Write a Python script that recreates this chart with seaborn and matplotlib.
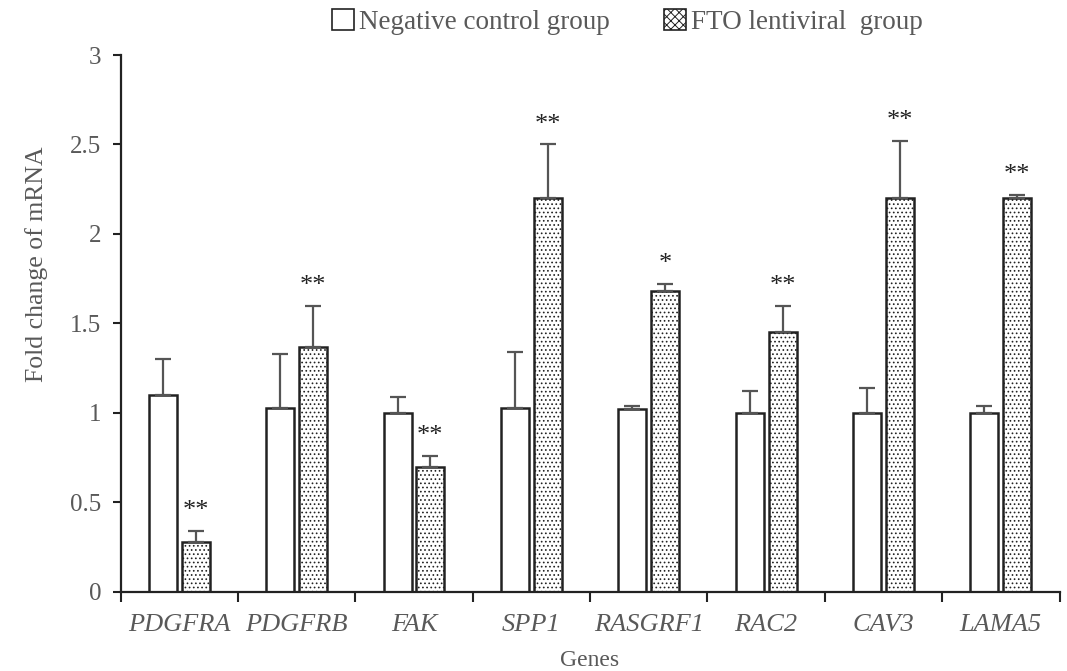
import matplotlib
matplotlib.use("Agg")
import matplotlib.pyplot as plt
from matplotlib.patches import Patch
import seaborn as sns
import pandas as pd

# datos
genes = ["PDGFRA", "PDGFRB", "FAK", "SPP1", "RASGRF1", "RAC2", "CAV3", "LAMA5"]
groups = ["Negative control group", "FTO lentiviral  group"]
control_mean = [1.10, 1.03, 1.00, 1.03, 1.02, 1.00, 1.00, 1.00]
control_err = [0.20, 0.30, 0.09, 0.31, 0.02, 0.12, 0.14, 0.04]
fto_mean = [0.28, 1.37, 0.70, 2.20, 1.68, 1.45, 2.20, 2.20]
fto_err = [0.06, 0.23, 0.06, 0.30, 0.04, 0.15, 0.32, 0.02]
stars = ["**", "**", "**", "**", "*", "**", "**", "**"]

df = pd.DataFrame({
    "gene": genes * 2,
    "group": [groups[0]] * len(genes) + [groups[1]] * len(genes),
    "value": control_mean + fto_mean,
})

sns.set_style("white")
plt.rcParams["font.family"] = ["Liberation Serif", "DejaVu Serif"]
plt.rcParams["hatch.linewidth"] = 0.7
plt.rcParams["hatch.color"] = "#333333"
text_color = "#595959"

fig = plt.figure(figsize=(10.67, 6.71), dpi=100)
ax = fig.add_axes([0.113, 0.118, 0.88, 0.8])

sns.barplot(
    data=df, x="gene", y="value", hue="group", order=genes, hue_order=groups,
    palette=["white", "white"], width=0.56, gap=0.15, edgecolor="#222222",
    linewidth=1.8, errorbar=None, legend=False, ax=ax,
)

# trama punteada para el grupo FTO y barras de error solo hacia arriba
for cont, errs in zip(ax.containers, [control_err, fto_err]):
    xs = [b.get_x() + b.get_width() / 2 for b in cont]
    hs = [b.get_height() for b in cont]
    ax.errorbar(xs, hs, yerr=[[0] * len(errs), errs], fmt="none",
                ecolor="#555555", elinewidth=1.6, capsize=6, capthick=1.6, zorder=1)
for b in ax.containers[1]:
    b.set_hatch("....")

# asteriscos
for b, e, s in zip(ax.containers[1], fto_err, stars):
    x = b.get_x() + b.get_width() / 2
    ax.text(x, b.get_height() + e + 0.05, s, ha="center", va="bottom",
            fontsize=19, color="#222222")

ax.set_ylim(0, 3)
ax.set_xlim(-0.5, len(genes) - 0.5)
ax.set_yticks([0, 0.5, 1, 1.5, 2, 2.5, 3])
ax.set_yticklabels(["0", "0.5", "1", "1.5", "2", "2.5", "3"])
ax.set_xticks(range(len(genes)))
ax.set_xticklabels(genes, style="italic")
ax.set_xticks([i - 0.5 for i in range(len(genes) + 1)], minor=True)
ax.tick_params(axis="x", which="major", length=0, pad=16, labelsize=19, labelcolor=text_color)
ax.tick_params(axis="x", which="minor", bottom=True, length=7, width=1.5,
               direction="out", color="#222222")
ax.tick_params(axis="y", left=True, length=6, width=1.5, direction="out", color="#222222",
               labelsize=18, labelcolor=text_color, pad=8)

ax.set_ylabel("Fold change of mRNA", fontsize=18.5, color=text_color, labelpad=16, y=0.61)
ax.set_xlabel("Genes", fontsize=17, color=text_color, labelpad=10)

sns.despine(ax=ax)
for sp in ["left", "bottom"]:
    ax.spines[sp].set_linewidth(1.6)
    ax.spines[sp].set_color("#222222")

handles = [
    Patch(facecolor="white", edgecolor="#222222", linewidth=1.2),
    Patch(facecolor="white", edgecolor="#222222", linewidth=1.2, hatch="xxxx"),
]
fig.legend(handles, groups, loc="center", bbox_to_anchor=(0.588, 0.967), ncol=2,
           frameon=False, fontsize=19.5, labelcolor=text_color, handlelength=0.8,
           handleheight=0.8, handletextpad=0.2, columnspacing=2.0)

fig.savefig("out.png", dpi=100)
